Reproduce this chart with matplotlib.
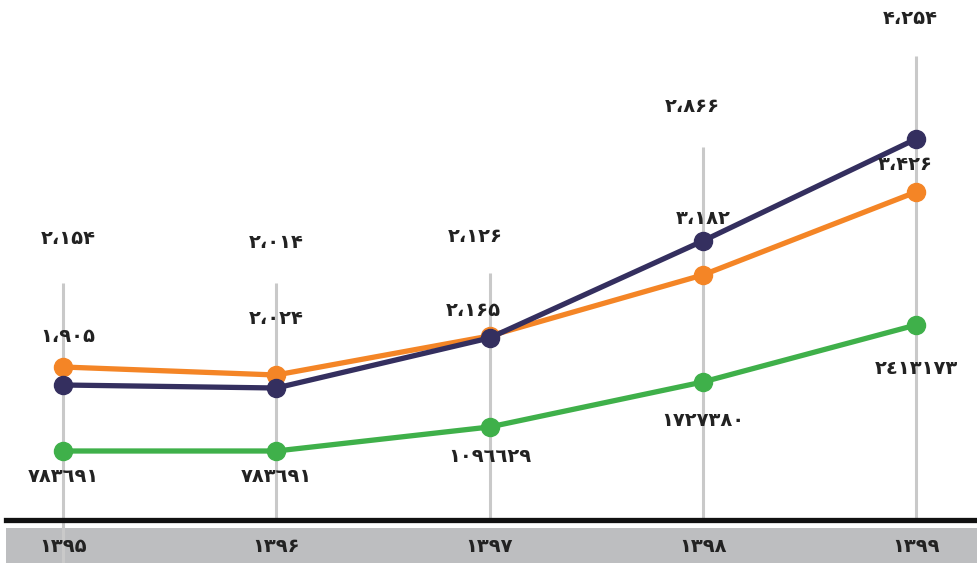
import matplotlib
matplotlib.use("Agg")
import matplotlib.pyplot as plt

years = ["۱۳۹۵", "۱۳۹۶", "۱۳۹۷", "۱۳۹۸", "۱۳۹۹"]
# plotted heights (index units)
navy = [135, 132, 182, 279, 381]
orange = [153, 145, 184, 245, 328]
green = [69, 69, 93, 138, 195]
guide_top = [237, 237, 247, 373, 464]

top_labels = ["۲،۱۵۴", "۲،۰۱۴", "۲،۱۲۶", "۲،۸۶۶", "۴،۲۵۴"]
point_labels = ["۱،۹۰۵", "۲،۰۲۴", "۲،۱۶۵", "۳،۱۸۲", "۳،۴۲۶"]
green_labels = ["۷۸۳٦۹۱", "۷۸۳٦۹۱", "۱۰۹٦٦۲۹", "۱۷۲۷۳۸۰", "۲٤۱۳۱۷۳"]

NAVY = "#342f5f"
ORANGE = "#f48526"
GREEN = "#3fb04a"
GRID = "#c9c9c9"
BAND = "#bdbec0"

W, H = 977, 563
fig = plt.figure(figsize=(W / 100, H / 100), dpi=100)
ax = fig.add_axes([0, 0, 1, 1])
sp = (916 - 63) / 4
ax.set_xlim(-63 / sp, 4 + (W - 916) / sp)
ax.set_ylim(-43, 520)
ax.axis("off")

x = list(range(len(years)))

# grey band and baseline
ax.axhspan(-43, -8, xmin=6 / W, xmax=1, color=BAND, zorder=1, lw=0)
ax.axhline(0, xmin=6 / W, xmax=1, color="#111111", lw=3.8, zorder=2)

# vertical guides
for i, t in enumerate(guide_top):
    bottom = -43 if i == 0 else 0
    ax.plot([i, i], [bottom, t], color=GRID, lw=2.2, zorder=1.5, solid_capstyle="butt")

for ys, c in [(green, GREEN), (orange, ORANGE), (navy, NAVY)]:
    ax.plot(x, ys, color=c, lw=3.8, marker="o", markersize=13, zorder=3,
            solid_capstyle="round")

fkw = dict(family=["DejaVu Sans"], fontweight="bold", fontsize=14, color="#222222",
           ha="center", va="center", zorder=5)

pt = 1 / sp  # one pixel in x units
top_dx = [5, 0, -14, -10, -6]
top_dy = [282, 277, 283, 413, 502]
for i, s in enumerate(top_labels):
    ax.text(i + top_dx[i] * pt, top_dy[i], s, **fkw)

pl_dx = [5, 0, -16, 0, -11]
pl_y = [183, 202, 210, 302, 355]
for i, s in enumerate(point_labels):
    ax.text(i + pl_dx[i] * pt, pl_y[i], s, **fkw)

g_dy = [-26, -26, -29, -38, -44]
for i, s in enumerate(green_labels):
    ax.text(i, green[i] + g_dy[i], s, **fkw)

for i, s in enumerate(years):
    ax.text(i, -27, s, **fkw)

fig.savefig("out.png", dpi=100)
